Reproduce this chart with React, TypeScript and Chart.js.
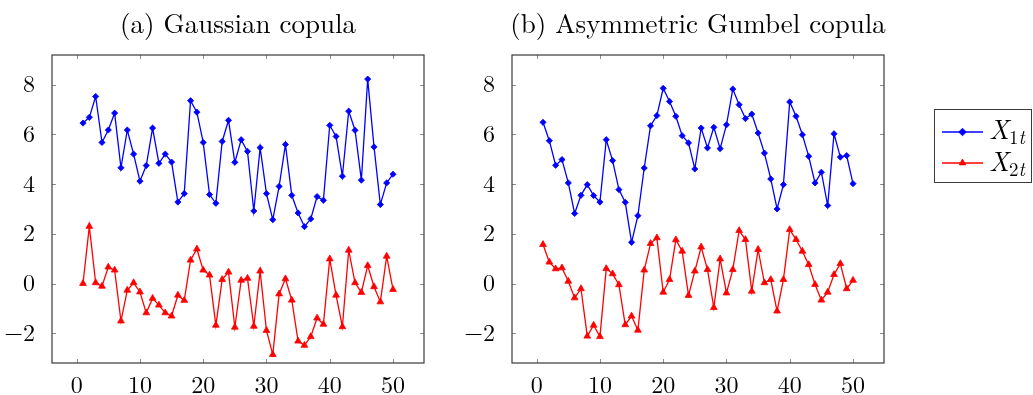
import React, { useEffect, useRef } from "react";
import { Chart, registerables } from "chart.js";

Chart.register(...registerables);

const timeIndex = [
  1, 2, 3, 4, 5, 6, 7, 8, 9, 10, 11, 12, 13, 14, 15, 16, 17, 18, 19, 20, 21, 22, 23, 24, 25,
  26, 27, 28, 29, 30, 31, 32, 33, 34, 35, 36, 37, 38, 39, 40, 41, 42, 43, 44, 45, 46, 47, 48, 49, 50,
];

const gaussX1 = [
  6.46, 6.69, 7.53, 5.68, 6.18, 6.86, 4.66, 6.18, 5.21, 4.12,
  4.75, 6.26, 4.84, 5.21, 4.89, 3.28, 3.62, 7.36, 6.9, 5.68,
  3.58, 3.23, 5.72, 6.57, 4.88, 5.79, 5.32, 2.92, 5.47, 3.62,
  2.57, 3.91, 5.6, 3.55, 2.84, 2.29, 2.6, 3.5, 3.35, 6.37,
  5.92, 4.32, 6.94, 6.17, 4.16, 8.23, 5.5, 3.18, 4.05, 4.4,
];
const gaussX2 = [
  0.0, 2.3, 0.03, -0.11, 0.66, 0.54, -1.51, -0.27, 0.03, -0.34,
  -1.18, -0.6, -0.87, -1.18, -1.31, -0.47, -0.68, 0.94, 1.39, 0.54,
  0.34, -1.68, 0.16, 0.46, -1.76, 0.13, 0.21, -1.72, 0.5, -1.89,
  -2.86, -0.42, 0.19, -0.67, -2.32, -2.49, -2.14, -1.39, -1.64, 0.99,
  -0.47, -1.74, 1.34, 0.03, -0.36, 0.72, -0.13, -0.74, 1.1, -0.24,
];
const gumbelX1 = [
  6.49, 5.75, 4.76, 4.99, 4.05, 2.82, 3.55, 3.98, 3.54, 3.28,
  5.79, 4.95, 3.78, 3.27, 1.66, 2.73, 4.65, 6.35, 6.76, 7.86,
  7.33, 6.73, 5.95, 5.66, 4.61, 6.26, 5.46, 6.29, 5.43, 6.39,
  7.83, 7.2, 6.64, 6.82, 6.06, 5.25, 4.21, 3.0, 3.98, 7.31,
  6.73, 5.99, 5.12, 4.05, 4.48, 3.14, 6.03, 5.09, 5.15, 4.02,
];
const gumbelX2 = [
  1.57, 0.86, 0.59, 0.63, 0.09, -0.58, -0.21, -2.12, -1.68, -2.14,
  0.6, 0.39, -0.05, -1.66, -1.31, -1.88, 0.54, 1.61, 1.84, -0.35,
  0.16, 1.76, 1.3, -0.48, 0.5, 1.47, 0.56, -0.97, 0.99, -0.38,
  0.56, 2.13, 1.77, -0.31, 1.37, 0.03, 0.16, -1.11, 0.16, 2.17,
  1.77, 1.3, 0.76, -0.04, -0.67, -0.35, 0.36, 0.8, -0.21, 0.13,
];

const xTicks = [0, 10, 20, 30, 40, 50];
const yTicks = [-2, 0, 2, 4, 6, 8];
const panelTitles = ["(a) Gaussian copula", "(b) Asymmetric Gumbel copula"];
const seriesNames = ["X_1t", "X_2t"];

const BLUE = "#0000ff";
const RED = "#ff0000";
const FONT = "'Latin Modern Roman', 'Liberation Serif', serif";

const boxPlugin = {
  id: "pgfBox",
  afterDraw(chart: any) {
    const { ctx, chartArea: a, scales } = chart;
    ctx.save();
    ctx.strokeStyle = "#8c8c8c";
    ctx.lineWidth = 1;
    const tl = 4;
    ctx.beginPath();
    for (const v of xTicks) {
      const px = Math.round(scales.x.getPixelForValue(v)) + 0.5;
      ctx.moveTo(px, a.bottom);
      ctx.lineTo(px, a.bottom - tl);
      ctx.moveTo(px, a.top);
      ctx.lineTo(px, a.top + tl);
    }
    for (const v of yTicks) {
      const py = Math.round(scales.y.getPixelForValue(v)) + 0.5;
      ctx.moveTo(a.left, py);
      ctx.lineTo(a.left + tl, py);
      ctx.moveTo(a.right, py);
      ctx.lineTo(a.right - tl, py);
    }
    ctx.stroke();
    ctx.strokeStyle = "#3a3a3a";
    ctx.lineWidth = 1.2;
    ctx.strokeRect(a.left, a.top, a.right - a.left, a.bottom - a.top);
    ctx.restore();
  },
};

function ChartPanel({ s1, s2, left }: { s1: number[]; s2: number[]; left: number }) {
  const ref = useRef<HTMLCanvasElement | null>(null);
  useEffect(() => {
    if (!ref.current) return;
    const chart = new Chart(ref.current, {
      type: "line",
      data: {
        datasets: [
          {
            label: seriesNames[0],
            data: timeIndex.map((t, i) => ({ x: t, y: s1[i] })),
            borderColor: BLUE,
            backgroundColor: BLUE,
            borderWidth: 1.3,
            pointStyle: "rectRot",
            pointRadius: 3.1,
            pointBorderWidth: 0.8,
            tension: 0,
          },
          {
            label: seriesNames[1],
            data: timeIndex.map((t, i) => ({ x: t, y: s2[i] })),
            borderColor: RED,
            backgroundColor: RED,
            borderWidth: 1.3,
            pointStyle: "triangle",
            pointRadius: 3.9,
            pointBorderWidth: 0.8,
            tension: 0,
          },
        ],
      },
      options: {
        responsive: false,
        animation: false,
        events: [],
        layout: { padding: { left: 0, right: 46, top: 55, bottom: 0 } },
        plugins: {
          legend: { display: false },
          tooltip: { enabled: false },
          title: { display: false },
        },
        scales: {
          x: {
            type: "linear",
            min: -3.9,
            max: 54.9,
            afterBuildTicks: (s: any) => {
              s.ticks = xTicks.map((v) => ({ value: v }));
            },
            afterFit: (s: any) => {
              s.height = 32;
            },
            grid: { display: false },
            border: { display: false },
            ticks: {
              font: { family: FONT, size: 24 },
              color: "#000",
              padding: 0,
              maxRotation: 0,
              autoSkip: false,
            },
          },
          y: {
            type: "linear",
            min: -3.2,
            max: 9.2,
            afterBuildTicks: (s: any) => {
              s.ticks = yTicks.map((v) => ({ value: v }));
            },
            afterFit: (s: any) => {
              s.width = 52;
            },
            grid: { display: false },
            border: { display: false },
            ticks: {
              font: { family: FONT, size: 24 },
              color: "#000",
              padding: 9,
              autoSkip: false,
              callback: (v: any) => (Number(v) < 0 ? "\u2212" + Math.abs(Number(v)) : String(v)),
            },
          },
        },
      },
      plugins: [boxPlugin],
    } as any);
    return () => chart.destroy();
  }, [s1, s2]);
  return (
    <canvas
      ref={ref}
      width={470}
      height={395}
      style={{ position: "absolute", left, top: 0, width: 470, height: 395 }}
    />
  );
}

function LegendLabel({ name, top }: { name: string; top: number }) {
  const [base, sub] = name.split("_");
  return (
    <div
      style={{
        position: "absolute",
        left: 989,
        top,
        fontFamily: FONT,
        fontSize: 27,
        lineHeight: "27px",
        whiteSpace: "nowrap",
        color: "#000",
      }}
    >
      <i>{base}</i>
      <span style={{ fontSize: 19, position: "relative", top: 5 }}>
        {sub.slice(0, 1)}
        <i>{sub.slice(1)}</i>
      </span>
    </div>
  );
}

export default function App() {
  const titleStyle = (cx: number): React.CSSProperties => ({
    position: "absolute",
    left: cx - 250,
    width: 500,
    top: 9,
    textAlign: "center",
    fontFamily: FONT,
    fontSize: 27,
    lineHeight: "27px",
    color: "#000",
    whiteSpace: "nowrap",
  });
  return (
    <div style={{ position: "absolute", left: 0, top: 0, width: 1033, height: 395, background: "#fff", overflow: "hidden" }}>
      <ChartPanel s1={gaussX1} s2={gaussX2} left={0} />
      <ChartPanel s1={gumbelX1} s2={gumbelX2} left={460} />
      <div style={titleStyle(238)}>{panelTitles[0]}</div>
      <div style={titleStyle(698)}>{panelTitles[1]}</div>
      <div
        style={{
          position: "absolute",
          left: 934,
          top: 109,
          width: 98,
          height: 74,
          border: "1.2px solid #3a3a3a",
          boxSizing: "border-box",
        }}
      />
      <svg style={{ position: "absolute", left: 0, top: 0 }} width={1033} height={395}>
        <line x1={942} y1={132} x2={983} y2={132} stroke={BLUE} strokeWidth={1.3} />
        <polygon points="962.5,128.2 966.3,132 962.5,135.8 958.7,132" fill={BLUE} stroke={BLUE} strokeWidth={0.8} />
        <line x1={942} y1={163} x2={983} y2={163} stroke={RED} strokeWidth={1.3} />
        <polygon points="962.5,159 965.8,164.9 959.2,164.9" fill={RED} stroke={RED} strokeWidth={0.8} />
      </svg>
      <LegendLabel name={seriesNames[0]} top={115} />
      <LegendLabel name={seriesNames[1]} top={147} />
    </div>
  );
}
